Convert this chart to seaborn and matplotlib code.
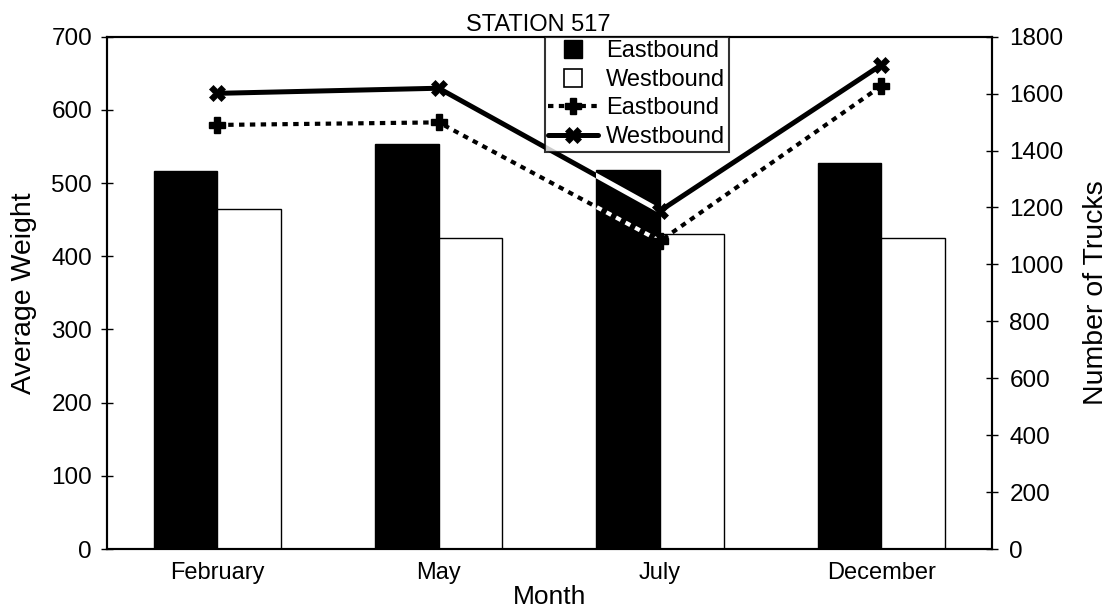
import numpy as np
import pandas as pd
import seaborn as sns
import matplotlib.pyplot as plt
from matplotlib.lines import Line2D

sns.set_style("white")
plt.rcParams['font.family'] = ['Liberation Sans', 'DejaVu Sans']
plt.rcParams.update({'text.color': 'black', 'axes.labelcolor': 'black',
                     'xtick.color': 'black', 'ytick.color': 'black'})

months = ['February', 'May', 'July', 'December']
weight_east = [517, 554, 518, 527]
weight_west = [464, 425, 431, 425]
trucks_east = [1490, 1499, 1082, 1627]
trucks_west = [1601, 1619, 1188, 1701]

df = pd.DataFrame({'Month': months * 2,
                   'Weight': weight_east + weight_west,
                   'Dir': ['Eastbound'] * 4 + ['Westbound'] * 4})

fig = plt.figure(figsize=(11.15, 6.15), dpi=100)
ax = fig.add_axes([0.0957, 0.1073, 0.794, 0.833])

sns.barplot(data=df, x='Month', y='Weight', hue='Dir', order=months,
            palette=['black', 'white'], edgecolor='black', linewidth=1,
            width=0.575, ax=ax, legend=False)
ax.set_ylim(0, 700)
ax.set_xlim(-0.5, 3.5)
ax.set_yticks(range(0, 701, 100))
ax.set_xticks(range(4))
ax.set_xticklabels(months)
ax.set_xticks(np.arange(-0.5, 4, 1), minor=True)
ax.tick_params(axis='x', which='major', length=0, labelsize=17, pad=9)
ax.tick_params(axis='x', which='minor', length=9, width=1, direction='inout')
ax.tick_params(axis='y', length=9, width=1, direction='inout', labelsize=17.5, pad=6, left=True)
ax.set_xlabel('Month', fontsize=19, labelpad=1)
ax.set_ylabel('Average Weight', fontsize=20.5, labelpad=10)
ax.set_title('STATION 517', fontsize=17, x=0.487, pad=4)

dots = (0, (1.3, 1.3))
east_style = dict(color='black', linewidth=3, linestyle=dots)
west_style = dict(color='black', linewidth=3.6)
east_mark = dict(marker='P', markersize=12, markeredgewidth=1)
west_mark = dict(marker='X', markersize=12, markeredgewidth=0.5)

ax2 = ax.twinx()
x = np.arange(4)
sns.lineplot(x=x, y=trucks_east, ax=ax2, **east_style)
sns.lineplot(x=x, y=trucks_west, ax=ax2, **west_style)

# lines appear white where they cross the black July bar
july_bar = ax.patches[2]
for yv, st in [(trucks_east, east_style), (trucks_west, west_style)]:
    ln, = ax2.plot(x, yv, **{**st, 'color': 'white'})
    ln.set_clip_path(july_bar)

# markers on top
ax2.plot(x, trucks_east, linestyle='none', color='black', **east_mark)
ax2.plot(x, trucks_west, linestyle='none', color='black', **west_mark)

ax2.set_ylim(0, 1800)
ax2.set_yticks(range(0, 1801, 200))
ax2.tick_params(axis='y', length=9, width=1, direction='inout', labelsize=17.5, pad=8, right=True)
ax2.set_ylabel('Number of Trucks', fontsize=20.5, labelpad=14)
ax2.set_xlim(-0.5, 3.5)

for a in (ax, ax2):
    for s in a.spines.values():
        s.set_color('black')
        s.set_linewidth(1.5)

handles = [Line2D([], [], linestyle='none', marker='s', markersize=13,
                  markerfacecolor='black', markeredgecolor='black'),
           Line2D([], [], linestyle='none', marker='s', markersize=13,
                  markerfacecolor='white', markeredgecolor='black',
                  markeredgewidth=1.2),
           Line2D([], [], **east_style, **east_mark),
           Line2D([], [], **west_style, **west_mark)]
labels = ['Eastbound', 'Westbound', 'Eastbound', 'Westbound']
leg = ax2.legend(handles, labels, loc='upper left', bbox_to_anchor=(0.495, 1.0),
                 borderaxespad=0, fontsize=17, frameon=True, fancybox=False,
                 labelspacing=0.28, handlelength=2.1, handletextpad=0.35,
                 borderpad=0.15)
leg.get_frame().set_edgecolor('black')
leg.get_frame().set_linewidth(1.5)

fig.savefig('out.png', dpi=100)
